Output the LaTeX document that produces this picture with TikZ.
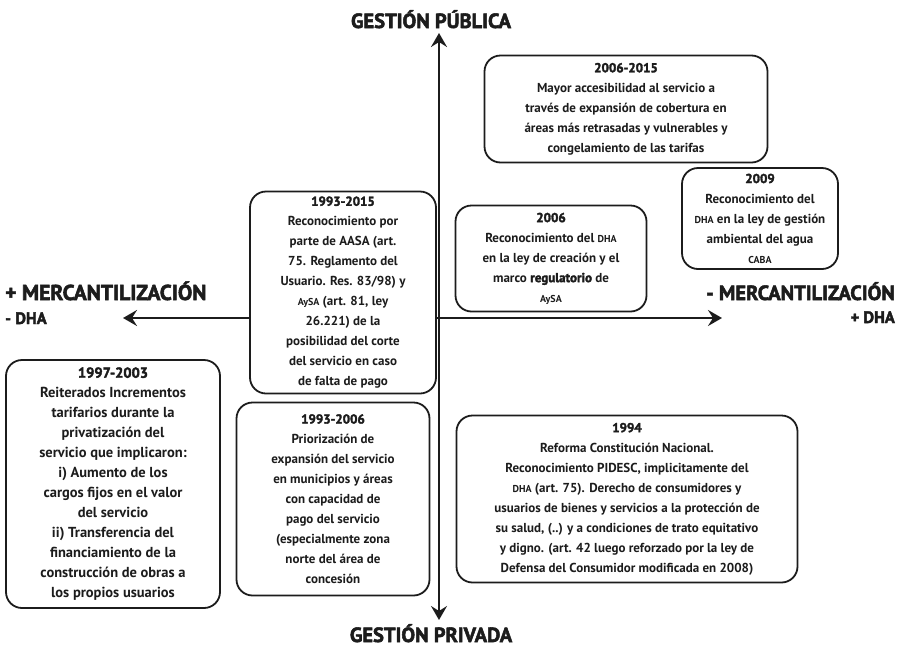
\documentclass[tikz,border=0pt]{standalone}
\usepackage{fontspec}
\setmainfont{PT Sans}
\newfontfamily\grueso{PT Sans}[FakeBold=2.5]
\usetikzlibrary{arrows.meta}
\definecolor{inkDark}{HTML}{1C1C1C}

\newcommand{\peq}[1]{{\fontsize{10}{12}\selectfont #1}}
\newcommand{\anio}[1]{{\grueso\bfseries #1}}

\begin{document}
\begin{tikzpicture}[x=1pt, y=-1pt,
    hito/.style={draw=inkDark, fill=white, line width=1.8pt, rounded corners=16pt, align=center, inner sep=2pt, text=inkDark, font=\fontsize{13}{20}\selectfont\bfseries},
    eje/.style={draw=inkDark, line width=2.4pt, {Stealth[length=14pt, width=16pt, inset=5pt]}-{Stealth[length=14pt, width=16pt, inset=5pt]}},
    ejeTit/.style={text=inkDark, inner sep=0pt, font=\fontsize{21.5}{23}\selectfont\grueso\bfseries},
    ejeSub/.style={text=inkDark, inner sep=0pt, font=\fontsize{16.5}{18}\selectfont\grueso\bfseries},
]
\useasboundingbox (0,0) rectangle (899,646);
% ejes
\coordinate (pubTip)  at (439, 33);
\coordinate (privTip) at (439, 620);
\coordinate (masTip)  at (123, 318);
\coordinate (menTip)  at (722, 318);
\draw[eje] (privTip) -- (pubTip);
\draw[eje] (masTip) -- (menTip);
\node[ejeTit, font=\fontsize{20.5}{22}\selectfont\grueso\bfseries, anchor=base] (gPublica) at (431, 28)  {GESTIÓN PÚBLICA};
\node[ejeTit, font=\fontsize{20.5}{22}\selectfont\grueso\bfseries, anchor=base] (gPrivada) at (431, 642) {GESTIÓN PRIVADA};
\node[ejeTit, anchor=base west] (masMerc) at (5, 300)   {+ MERCANTILIZACIÓN};
\node[ejeSub, anchor=base west] (menDha)  at (5, 324)   {- DHA};
\node[ejeTit, font=\fontsize{20.5}{22}\selectfont\grueso\bfseries, anchor=base east] (menMerc) at (895, 300) {- MERCANTILIZACIÓN};
\node[ejeSub, anchor=base east] (masDha)  at (895, 323) {+ DHA};
% hitos
\node[hito, minimum width=283pt, minimum height=107pt] (h20062015) at (626, 109)
  {\anio{2006-2015}\\Mayor accesibilidad al servicio a\\través de expansión de cobertura en\\áreas más retrasadas y vulnerables y\\congelamiento de las tarifas};
\node[hito, minimum width=156pt, minimum height=101pt] (h2009) at (760, 218.5)
  {\anio{2009}\\Reconocimiento del\\\peq{DHA} en la ley de gestión\\ambiental del agua\\\peq{CABA}};
\node[hito, minimum width=186pt, minimum height=202pt] (h19932015) at (343, 292.5)
  {\anio{1993-2015}\\Reconocimiento por\\parte de AASA (art.\\75. Reglamento del\\Usuario. Res. 83/98) y\\\peq{AySA} (art. 81, ley\\26.221) de la\\posibilidad del corte\\del servicio en caso\\de falta de pago};
\node[hito, minimum width=191pt, minimum height=106pt] (h2006) at (551, 258.5)
  {\anio{2006}\\Reconocimiento del \peq{DHA}\\en la ley de creación y el\\marco \anio{regulatorio} de\\\peq{AySA}};
\node[hito, minimum width=214pt, minimum height=248pt, font=\fontsize{14.5}{20}\selectfont\bfseries] (h19972003) at (113, 484)
  {\anio{1997-2003}\\Reiterados Incrementos\\tarifarios durante la\\privatización del\\servicio que implicaron:\\i) Aumento de los\\cargos fijos en el valor\\del servicio\\ii) Transferencia del\\financiamiento de la\\construcción de obras a\\los propios usuarios};
\node[hito, minimum width=193pt, minimum height=193pt] (h19932006) at (333, 499)
  {\anio{1993-2006}\\Priorización de\\expansión del servicio\\en municipios y áreas\\con capacidad de\\pago del servicio\\(especialmente zona\\norte del área de\\concesión};
\node[hito, minimum width=341pt, minimum height=167pt] (h1994) at (627, 499)
  {\anio{1994}\\Reforma Constitución Nacional.\\Reconocimiento PIDESC, implicitamente del\\\peq{DHA} (art. 75). Derecho de consumidores y\\usuarios de bienes y servicios a la protección de\\su salud, (..) y a condiciones de trato equitativo\\y digno. (art. 42 luego reforzado por la ley de\\Defensa del Consumidor modificada en 2008)};
\end{tikzpicture}
\end{document}
